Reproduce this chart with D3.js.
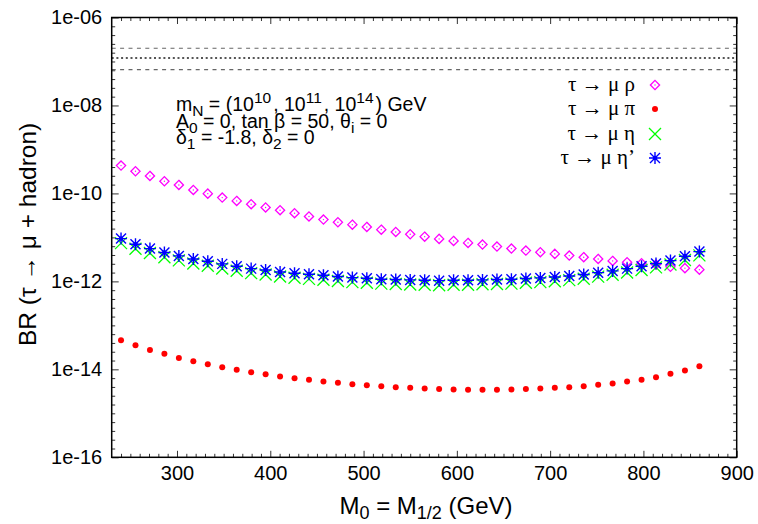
<!DOCTYPE html>
<html>
<head>
<meta charset="utf-8">
<script src="https://cdn.jsdelivr.net/npm/d3@7"></script>
<style>
  body { margin: 0; background: #fff; }
  svg { display: block; }
  .sans { font-family: "Liberation Sans", Arial, sans-serif; }
  .serif { font-family: "Liberation Serif", "DejaVu Serif", serif; }
</style>
</head>
<body>
<div id="chart"></div>
<script>
// chart values
const massPoints = [240, 255.5, 271, 286.5, 302, 317.5, 333, 348.5, 364, 379.5, 395, 410.5, 426, 441.5,
  457, 472.5, 488, 503.5, 519, 534.5, 550, 565.5, 581, 596.5, 612, 627.5, 643, 658.5, 674, 689.5,
  705, 720.5, 736, 751.5, 767, 782.5, 798, 813.5, 829, 844.5, 860];

const brRho = [4.29e-10, 3.19e-10, 2.50e-10, 1.89e-10, 1.56e-10, 1.20e-10, 9.89e-11, 8.04e-11, 6.76e-11,
  5.68e-11, 4.79e-11, 4.15e-11, 3.55e-11, 2.99e-11, 2.54e-11, 2.21e-11, 1.95e-11, 1.73e-11, 1.50e-11,
  1.33e-11, 1.18e-11, 1.04e-11, 9.25e-12, 8.32e-12, 7.50e-12, 6.87e-12, 6.19e-12, 5.57e-12, 5.01e-12,
  4.60e-12, 4.22e-12, 3.86e-12, 3.55e-12, 3.24e-12, 2.92e-12, 2.73e-12, 2.59e-12, 2.41e-12, 2.14e-12,
  2.00e-12, 1.85e-12];

const brPi = [4.60e-14, 3.55e-14, 2.77e-14, 2.25e-14, 1.82e-14, 1.53e-14, 1.31e-14, 1.12e-14, 9.75e-15,
  8.63e-15, 7.76e-15, 6.85e-15, 6.31e-15, 5.77e-15, 5.28e-15, 4.93e-15, 4.60e-15, 4.37e-15, 4.14e-15,
  3.94e-15, 3.80e-15, 3.66e-15, 3.55e-15, 3.48e-15, 3.42e-15, 3.42e-15, 3.42e-15, 3.48e-15, 3.55e-15,
  3.66e-15, 3.80e-15, 3.94e-15, 4.14e-15, 4.45e-15, 4.76e-15, 5.28e-15, 5.77e-15, 6.61e-15, 7.91e-15,
  9.40e-15, 1.18e-14];

const brEta = [7.4e-12, 5.5e-12, 4.4e-12, 3.55e-12, 3.0e-12, 2.55e-12, 2.27e-12, 1.97e-12, 1.74e-12,
  1.54e-12, 1.43e-12, 1.29e-12, 1.21e-12, 1.14e-12, 1.09e-12, 1.02e-12, 9.6e-13, 9.3e-13, 8.9e-13,
  8.7e-13, 8.5e-13, 8.4e-13, 8.2e-13, 8.4e-13, 8.4e-13, 8.6e-13, 8.7e-13, 8.9e-13, 9.3e-13,
  9.6e-13, 1.01e-12, 1.07e-12, 1.15e-12, 1.28e-12, 1.41e-12, 1.59e-12, 1.81e-12, 2.08e-12, 2.43e-12,
  3.06e-12, 3.90e-12];

const brEtaPrime = [9.40e-12, 7.00e-12, 5.57e-12, 4.52e-12, 3.80e-12, 3.24e-12, 2.88e-12, 2.50e-12, 2.21e-12,
  1.95e-12, 1.82e-12, 1.64e-12, 1.53e-12, 1.45e-12, 1.38e-12, 1.29e-12, 1.22e-12, 1.18e-12, 1.12e-12,
  1.10e-12, 1.08e-12, 1.06e-12, 1.04e-12, 1.06e-12, 1.06e-12, 1.08e-12, 1.10e-12, 1.12e-12, 1.16e-12,
  1.20e-12, 1.26e-12, 1.33e-12, 1.43e-12, 1.58e-12, 1.73e-12, 1.95e-12, 2.21e-12, 2.54e-12, 2.97e-12,
  3.74e-12, 4.75e-12];

// experimental bound lines (dashed, dotted, dashed)
const boundValues = [2.0e-7, 1.2e-7, 6.5e-8];
const boundStyles = ["dashed", "dotted", "dashed"];

const legendLabels = ["τ → μ ρ", "τ → μ π", "τ → μ η", "τ → μ η’"];
const xTickLabels = ["300", "400", "500", "600", "700", "800", "900"];
const yTickLabels = ["1e-16", "1e-14", "1e-12", "1e-10", "1e-08", "1e-06"];

// dimensions
const width = 758, height = 524;
const plot = { left: 111.7, right: 736.7, top: 17.5, bottom: 457.3 };

const svg = d3.select("#chart").append("svg")
  .attr("width", width)
  .attr("height", height);

const x = d3.scaleLinear().domain([230, 900]).range([plot.left, plot.right]);
const y = d3.scaleLog().domain([1e-16, 1e-6]).range([plot.bottom, plot.top]);

const xMajor = xTickLabels.map(Number);
const xMinor = d3.range(240, 900, 10).filter(v => v % 100 !== 0);
const yMajor = yTickLabels.map(Number);
const yMinor = d3.range(-16, -6, 0.2).map(e => Math.pow(10, e)).filter(v => !yMajor.some(m => Math.abs(Math.log10(v) - Math.log10(m)) < 1e-6));

function styleAxis(g) {
  g.select(".domain").remove();
  g.selectAll(".tick line").attr("stroke", "#333").attr("stroke-width", 1);
}

// bottom axis with labels
svg.append("g")
  .attr("transform", `translate(0,${plot.bottom})`)
  .call(d3.axisBottom(x).tickValues(xMajor).tickSize(-6.5).tickPadding(8.5).tickFormat((d, i) => xTickLabels[i]))
  .call(styleAxis)
  .selectAll("text").attr("font-size", 20).attr("fill", "#000").attr("font-family", "Liberation Sans, Arial, sans-serif");
svg.append("g")
  .attr("transform", `translate(0,${plot.bottom})`)
  .call(d3.axisBottom(x).tickValues(xMinor).tickSize(-3.5).tickFormat(""))
  .call(styleAxis);
// top mirror
svg.append("g")
  .attr("transform", `translate(0,${plot.top})`)
  .call(d3.axisTop(x).tickValues(xMajor).tickSize(-6.5).tickFormat(""))
  .call(styleAxis);
svg.append("g")
  .attr("transform", `translate(0,${plot.top})`)
  .call(d3.axisTop(x).tickValues(xMinor).tickSize(-3.5).tickFormat(""))
  .call(styleAxis);

// left axis with labels
svg.append("g")
  .attr("transform", `translate(${plot.left},0)`)
  .call(d3.axisLeft(y).tickValues(yMajor).tickSize(-7).tickPadding(9.5).tickFormat((d, i) => yTickLabels[i]))
  .call(styleAxis)
  .selectAll("text").attr("font-size", 20).attr("fill", "#000").attr("font-family", "Liberation Sans, Arial, sans-serif");
svg.append("g")
  .attr("transform", `translate(${plot.left},0)`)
  .call(d3.axisLeft(y).tickValues(yMinor).tickSize(-3.5).tickFormat(""))
  .call(styleAxis);
// right mirror
svg.append("g")
  .attr("transform", `translate(${plot.right},0)`)
  .call(d3.axisRight(y).tickValues(yMajor).tickSize(-7).tickFormat(""))
  .call(styleAxis);
svg.append("g")
  .attr("transform", `translate(${plot.right},0)`)
  .call(d3.axisRight(y).tickValues(yMinor).tickSize(-3.5).tickFormat(""))
  .call(styleAxis);

// bound lines
svg.selectAll(".bound")
  .data(boundValues)
  .join("line")
  .attr("class", "bound")
  .attr("x1", plot.left)
  .attr("x2", plot.right)
  .attr("y1", d => y(d))
  .attr("y2", d => y(d))
  .attr("stroke", (d, i) => boundStyles[i] === "dotted" ? "#555" : "#666")
  .attr("stroke-width", (d, i) => boundStyles[i] === "dotted" ? 2 : 1.2)
  .attr("stroke-dasharray", (d, i) => boundStyles[i] === "dotted" ? "2,2.7" : "4,4.4");

// frame
svg.append("rect")
  .attr("x", plot.left)
  .attr("y", plot.top)
  .attr("width", plot.right - plot.left)
  .attr("height", plot.bottom - plot.top)
  .attr("fill", "none")
  .attr("stroke", "#000")
  .attr("stroke-width", 1.5);

// marker drawing helpers
function drawDiamond(g) {
  g.append("path").attr("d", "M0,-4.6L4.6,0L0,4.6L-4.6,0Z")
    .attr("fill", "none").attr("stroke", "#ff00ff").attr("stroke-width", 1.3);
  g.append("circle").attr("r", 0.7).attr("fill", "#ff00ff");
}
function drawDot(g) {
  g.append("circle").attr("r", 3).attr("fill", "#ff0000");
}
function drawCross(g) {
  g.append("path").attr("d", "M-6,-6L6,6M-6,6L6,-6")
    .attr("stroke", "#00ff00").attr("stroke-width", 1.3).attr("fill", "none");
}
function drawStar(g) {
  g.append("path").attr("d", "M-5,-5L5,5M-5,5L5,-5M0,-6L0,6M-6,0L6,0")
    .attr("stroke", "#0000ff").attr("stroke-width", 1.4).attr("fill", "none");
  g.append("circle").attr("r", 2.2).attr("fill", "#0000ff");
}

const series = [
  { values: brRho, draw: drawDiamond },
  { values: brPi, draw: drawDot },
  { values: brEta, draw: drawCross },
  { values: brEtaPrime, draw: drawStar }
];

series.forEach(s => {
  svg.append("g")
    .selectAll("g")
    .data(massPoints.map((m, i) => [m, s.values[i]]))
    .join("g")
    .attr("transform", d => `translate(${x(d[0])},${y(d[1])})`)
    .each(function () { s.draw(d3.select(this)); });
});

// legend
const legendY = [85, 109, 134, 158];
series.forEach((s, i) => {
  svg.append("text")
    .attr("class", "serif")
    .attr("x", 635)
    .attr("y", legendY[i] + 6)
    .attr("text-anchor", "end")
    .attr("font-size", 21)
    .text(legendLabels[i]);
  const g = svg.append("g").attr("transform", `translate(655,${legendY[i]})`);
  s.draw(g);
});

// annotation text
const note = svg.append("g").attr("class", "sans").attr("font-size", 19.5);
const sub = 15.5;
const l1 = note.append("text").attr("x", 176).attr("y", 111);
l1.append("tspan").text("m");
l1.append("tspan").attr("font-size", sub).attr("dy", 5).text("N");
l1.append("tspan").attr("dy", -5).text(" = (10");
l1.append("tspan").attr("font-size", sub).attr("dy", -8).text("10");
l1.append("tspan").attr("dy", 8).attr("dx", 2).text(", 10");
l1.append("tspan").attr("font-size", sub).attr("dy", -8).text("11");
l1.append("tspan").attr("dy", 8).attr("dx", 2).text(", 10");
l1.append("tspan").attr("font-size", sub).attr("dy", -8).text("14");
l1.append("tspan").attr("dy", 8).attr("dx", 2).text(") GeV");

const l2 = note.append("text").attr("x", 176).attr("y", 127.5);
l2.append("tspan").text("A");
l2.append("tspan").attr("font-size", sub).attr("dy", 5).text("0");
l2.append("tspan").attr("dy", -5).text(" = 0, tan β = 50, θ");
l2.append("tspan").attr("font-size", sub).attr("dy", 5).text("i");
l2.append("tspan").attr("dy", -5).text(" = 0");

const l3 = note.append("text").attr("x", 176).attr("y", 144);
l3.append("tspan").text("δ");
l3.append("tspan").attr("font-size", sub).attr("dy", 5).text("1");
l3.append("tspan").attr("dy", -5).text(" = -1.8, δ");
l3.append("tspan").attr("font-size", sub).attr("dy", 5).text("2");
l3.append("tspan").attr("dy", -5).text(" = 0");

// axis titles
const xt = svg.append("text")
  .attr("class", "sans")
  .attr("x", 426)
  .attr("y", 514)
  .attr("text-anchor", "middle")
  .attr("font-size", 24);
xt.append("tspan").text("M");
xt.append("tspan").attr("font-size", 18).attr("dy", 5).text("0");
xt.append("tspan").attr("dy", -5).text(" = M");
xt.append("tspan").attr("font-size", 18).attr("dy", 5).text("1/2");
xt.append("tspan").attr("dy", -5).text(" (GeV)");

svg.append("text")
  .attr("class", "sans")
  .attr("transform", `translate(36,${(plot.top + plot.bottom) / 2 - 3}) rotate(-90)`)
  .attr("text-anchor", "middle")
  .attr("font-size", 24.5)
  .text("BR (τ → μ + hadron)");
</script>
</body>
</html>
